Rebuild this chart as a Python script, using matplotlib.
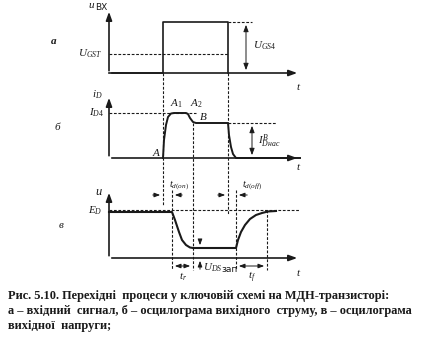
import matplotlib
matplotlib.use("Agg")
import matplotlib.pyplot as plt
import numpy as np

plt.rcParams["mathtext.fontset"] = "custom"
plt.rcParams["mathtext.it"] = "Liberation Serif:italic"
plt.rcParams["mathtext.rm"] = "Liberation Serif"
plt.rcParams["mathtext.bf"] = "Liberation Serif:bold"

# ---- data (in picture coordinates) ----
x_axis = 109
t_on = 163        # input switch-on
t_off = 228       # input switch-off
# panel a
a_base, a_top, a_ugst = 73, 22, 54
# panel b: drain current waveform
b_base, b_id4, b_B = 158, 113, 123
id_x = [163, 164, 166, 168, 171, 174, 186, 188, 190, 193, 196, 228, 229, 231, 233, 236, 300]
id_y = [158, 140, 125, 117, 113.5, 113, 113, 114, 118, 122, 123, 123, 135, 147, 154, 158, 158]
# panel c: drain voltage waveform
c_base, c_ed = 258, 210
ud_x = [109, 172, 175, 179, 182, 186, 190, 193, 236, 238, 241, 245, 250, 256, 262, 268, 276]
ud_y = [212, 212, 220, 232, 240, 245, 247.5, 248, 248, 240, 232, 225, 219, 215, 213, 211.5, 211]
t_d_on_end = 172
t_r_end = 193
t_d_off_end = 236
t_f_end = 267

caption = ["Рис. 5.10. Перехідні  процеси у ключовій схемі на МДН-транзисторі:",
           "а – вхідний  сигнал, б – осцилограма вихідного  струму, в – осцилограма",
           "вихідної  напруги;"]

fig = plt.figure(figsize=(4.24, 3.37), dpi=100)
ax = fig.add_axes([0, 0, 1, 1])
ax.set_xlim(0, 424)
ax.set_ylim(337, 0)
ax.axis("off")

K = "#1a1a1a"
serif = "Liberation Serif"
lw = 1.2
dash = dict(color=K, lw=0.8, ls=(0, (2.5, 1.5)))

def axes_pair(y_base, y_top, x_end=300):
    ax.annotate("", xy=(x_axis, y_top), xytext=(x_axis, y_base + 0.5),
                arrowprops=dict(arrowstyle="-|>,head_length=0.5,head_width=0.18", color=K, lw=lw))
    ax.annotate("", xy=(x_end, y_base), xytext=(x_axis, y_base),
                arrowprops=dict(arrowstyle="-|>,head_length=0.5,head_width=0.18", color=K, lw=lw))

def darrow(x, y1, y2):
    ax.annotate("", xy=(x, y1), xytext=(x, y2),
                arrowprops=dict(arrowstyle="<|-|>,head_length=0.4,head_width=0.15", color=K, lw=0.7))

def harrow(x_from, x_to, y):
    ax.annotate("", xy=(x_to, y), xytext=(x_from, y),
                arrowprops=dict(arrowstyle="-|>,head_length=0.35,head_width=0.13", color=K, lw=0.7))

def lab(x, y, s, size=8, ha="left", style="italic", weight="normal"):
    ax.text(x, y, s, fontsize=size, ha=ha, va="center", family=serif,
            style=style, weight=weight, color=K)

# ---------- panel a ----------
axes_pair(a_base, 9)
ax.plot([x_axis, t_on, t_on, t_off, t_off], [a_base, a_base, a_top, a_top, a_base], color=K, lw=lw)
ax.plot([x_axis, t_off], [a_ugst, a_ugst], **dash)
ax.plot([t_off, 252], [a_top, a_top], **dash)
darrow(246, a_top, a_base)
lab(253, 46, "$U_{GS4}$")
lab(78, 54, "$U_{GST}$")
ax.text(88, 5, "$u$", fontsize=8, family=serif, va="center", color=K)
ax.text(95, 8, "ВХ", fontsize=6.5, family="DejaVu Sans", va="center", color=K)
lab(296, 86, "$t$")
lab(51, 42, "а", size=8, weight="bold")

# ---------- panel b ----------
axes_pair(b_base, 95)
ax.plot(id_x, id_y, color=K, lw=1.4)
ax.plot([x_axis, 196], [b_id4, b_id4], **dash)
ax.plot([t_off, 276], [b_B, b_B], **dash)
darrow(252, b_B, b_base)
lab(258, 141, "$I^{B}_{Dнас}$")
lab(92, 95, "$i_D$")
lab(89, 113, "$I_{D4}$")
lab(152, 152, "$A$")
lab(170, 104, "$A_1$")
lab(190, 104, "$A_2$")
lab(199, 117, "$B$")
lab(296, 167, "$t$")
lab(55, 128, "б", size=8)

# ---------- vertical dashed guides ----------
ax.plot([t_on, t_on], [a_base, 205], **dash)
ax.plot([t_r_end, t_r_end], [b_B, 270], **dash)
ax.plot([t_off, t_off], [a_base, 215], **dash)
ax.plot([t_d_on_end, t_d_on_end], [190, 270], **dash)
ax.plot([t_d_off_end, t_d_off_end], [190, 270], **dash)
ax.plot([t_f_end, t_f_end], [c_ed, 270], **dash)

# ---------- panel c ----------
axes_pair(c_base, 190)
ax.plot([x_axis, 300], [c_ed, c_ed], **dash)
ax.plot(ud_x, ud_y, color=K, lw=1.5)
harrow(150, t_on, 195)
harrow(185, t_d_on_end, 195)
harrow(215, t_off, 195)
harrow(250, t_d_off_end, 195)
lab(169, 185, "$t_{d(on)}$", size=7.5)
lab(242, 185, "$t_{d(off)}$", size=7.5)
# t_r, t_f
ax.annotate("", xy=(t_d_on_end, 266), xytext=(t_r_end, 266),
            arrowprops=dict(arrowstyle="<|-|>,head_length=0.35,head_width=0.13", color=K, lw=0.7))
ax.annotate("", xy=(t_d_off_end, 266), xytext=(t_f_end, 266),
            arrowprops=dict(arrowstyle="<|-|>,head_length=0.35,head_width=0.13", color=K, lw=0.7))
lab(179, 277, "$t_r$")
lab(248, 277, "$t_f$")
# U_DS zap arrows
ax.annotate("", xy=(200, 248), xytext=(200, 237),
            arrowprops=dict(arrowstyle="-|>,head_length=0.35,head_width=0.13", color=K, lw=0.7))
ax.annotate("", xy=(200, 258), xytext=(200, 272),
            arrowprops=dict(arrowstyle="-|>,head_length=0.35,head_width=0.13", color=K, lw=0.7))
lab(203, 268, "$U_{DS}$")
ax.text(221, 270, "зап", fontsize=6.5, family="DejaVu Sans", va="center", color=K)
lab(95, 192, "$u$", size=9)
lab(88, 211, "$E_D$")
lab(296, 272, "$t$")
lab(59, 226, "в", size=8)

# ---------- caption ----------
for i, line in enumerate(caption):
    ax.text(8, 296 + i * 15, line, fontsize=8.9, family=serif, weight="bold",
            va="center", ha="left", color=K)

fig.savefig("out.png", dpi=100)
